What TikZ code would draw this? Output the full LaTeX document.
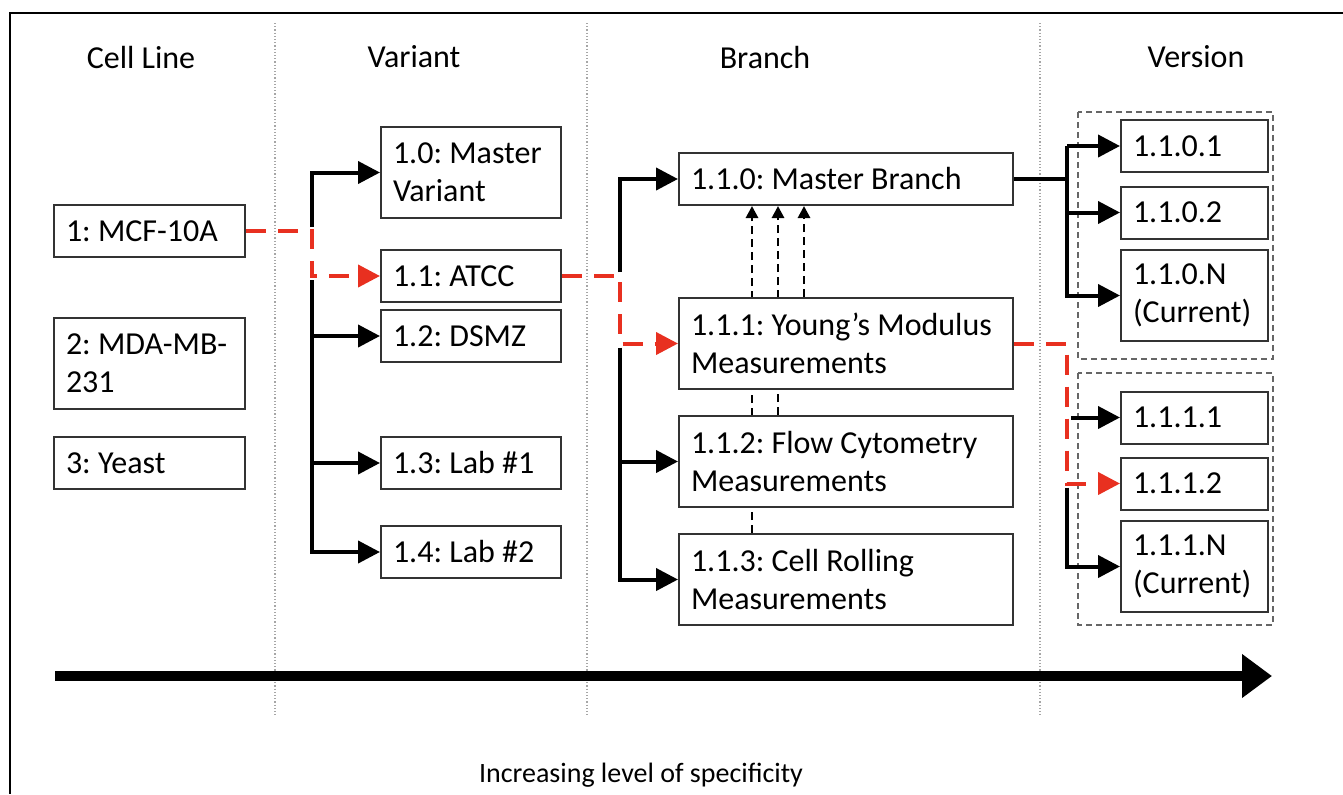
\documentclass[tikz,border=0pt]{standalone}
\usepackage{fontspec}
\setmainfont{Carlito}
\usetikzlibrary{arrows.meta,backgrounds}

\definecolor{pathred}{RGB}{232,48,32}
\frenchspacing
\hyphenpenalty=10000
\exhyphenpenalty=10000

\tikzset{
  box/.style={draw=black!80, line width=1pt, fill=white, align=flush left,
    inner xsep=6pt, inner ysep=0pt, font=\fontsize{16}{19}\selectfont},
  cellbox/.style={box, text width=83.5pt},
  varbox/.style={box, text width=78pt},
  brbox/.style={box, text width=155pt},
  verbox/.style={box, text width=61.5pt},
  short/.style={minimum height=26pt},
  tall/.style={minimum height=45.5pt},
  head/.style={font=\fontsize{16}{19}\selectfont},
  trunk/.style={line width=2pt},
  fork/.style={line width=2pt, -{Triangle[length=11pt,width=11pt]}},
  redpath/.style={pathred, line width=2pt, dash pattern=on 10pt off 6pt,
    -{Triangle[length=11pt,width=11pt]}},
  merge/.style={line width=1.4pt, dash pattern=on 4pt off 2.5pt,
    -{Triangle[length=6pt,width=6pt]}},
  sep/.style={gray!70, line width=0.6pt, densely dotted},
  group/.style={gray!80!black, line width=0.8pt, dash pattern=on 3pt off 2pt},
  axis/.style={line width=5pt, -{Triangle[length=15pt,width=21pt]}}
}

\begin{document}
\begin{tikzpicture}[x=0.5pt,y=-0.5pt]
\useasboundingbox (0,0) rectangle (1343,794);

% frame (cut at right and bottom)
\draw[line width=1pt] (1343,13) -- (10,13) -- (10,794);

% column separators
\foreach \x in {275,587,1040}
{
    \draw[sep] (\x,23) -- (\x,715);
}

% headers
\node[head] (hcell) at (141,57) {Cell Line};
\node[head] (hvar) at (414,57) {Variant};
\node[head] (hbr) at (765,57) {Branch};
\node[head] (hver) at (1196,57) {Version};

% cell lines
\node[cellbox,short] (c1) at (149.5,231) {1: MCF-10A};
\node[cellbox,tall] (c2) at (149.5,363) {2: MDA-MB-\\231};
\node[cellbox,short] (c3) at (149.5,463) {3: Yeast};

% variants
\node[varbox,tall] (v0) at (471,172.5) {1.0: Master\\Variant};
\node[varbox,short] (v1) at (471,276) {1.1: ATCC};
\node[varbox,short] (v2) at (471,336) {1.2: DSMZ};
\node[varbox,short] (v3) at (471,463) {1.3: Lab \#1};
\node[varbox,short] (v4) at (471,552) {1.4: Lab \#2};

% branches
\node[brbox,short] (b0) at (846,179) {1.1.0: Master Branch};
\node[brbox,tall] (b1) at (846,343.5) {1.1.1: Young’s Modulus\\Measurements};
\node[brbox,tall] (b2) at (846,461.5) {1.1.2: Flow Cytometry\\Measurements};
\node[brbox,tall] (b3) at (846,579.5) {1.1.3: Cell Rolling\\Measurements};

% versions
\draw[group] (1078,112) rectangle (1273,359);
\draw[group] (1078,373) rectangle (1273,625);
\node[verbox,short] (r0) at (1194.5,146) {1.1.0.1};
\node[verbox,short] (r1) at (1194.5,212.5) {1.1.0.2};
\node[verbox,tall] (r2) at (1194.5,295.5) {1.1.0.N\\(Current)};
\node[verbox,short] (s0) at (1194.5,417.5) {1.1.1.1};
\node[verbox,short] (s1) at (1194.5,483.5) {1.1.1.2};
\node[verbox,tall] (s2) at (1194.5,566.5) {1.1.1.N\\(Current)};

% trunk positions
\coordinate (vtx) at (312,0);
\coordinate (btx) at (620,0);
\coordinate (rtx) at (1067,0);

% variant fork
\draw[fork] ([yshift=2pt]c1.east -| vtx) |- (v0.west);
\draw[fork] ([yshift=-2pt]v1.west -| vtx) |- (v4.west);
\foreach \n in {v2,v3}
{
    \draw[fork] (\n.west -| vtx) -- (\n.west);
}
\draw[redpath] (c1.east) -- (c1.east -| vtx) |- (v1.west);

% branch fork
\draw[fork] ([yshift=2pt]v1.east -| btx) |- (b0.west);
\draw[fork] ([yshift=-2pt]b1.west -| btx) |- (b3.west);
\draw[fork] (b2.west -| btx) -- (b2.west);
\draw[redpath] (v1.east) -- (v1.east -| btx) |- (b1.west);

% merges into master branch
\begin{scope}[on background layer]
\draw[merge] ([xshift=37pt]b3.north west) -- ([xshift=37pt]b0.south west);
\draw[merge] ([xshift=50pt]b2.north west) -- ([xshift=50pt]b0.south west);
\draw[merge] ([xshift=63pt]b1.north west) -- ([xshift=63pt]b0.south west);
\end{scope}

% version forks
\draw[trunk] (b0.east) -- (b0.east -| rtx);
\draw[fork] (r0.west -| rtx) |- (r2.west);
\draw[fork] (r0.west -| rtx) -- (r0.west);
\draw[fork] (r1.west -| rtx) -- (r1.west);
\draw[fork] ([xshift=2pt]s0.west -| rtx) -- (s0.west);
\draw[fork] ([yshift=-2pt]s1.west -| rtx) |- (s2.west);
\draw[redpath] (b1.east) -- (b1.east -| rtx) |- (s1.west);

% specificity axis
\coordinate (axstart) at (55,676);
\coordinate (axend) at (1272,676);
\draw[axis] (axstart) -- (axend);
\node[font=\fontsize{14}{17}\selectfont] (axlabel) at (641,775) {Increasing level of specificity};

\end{tikzpicture}
\end{document}
